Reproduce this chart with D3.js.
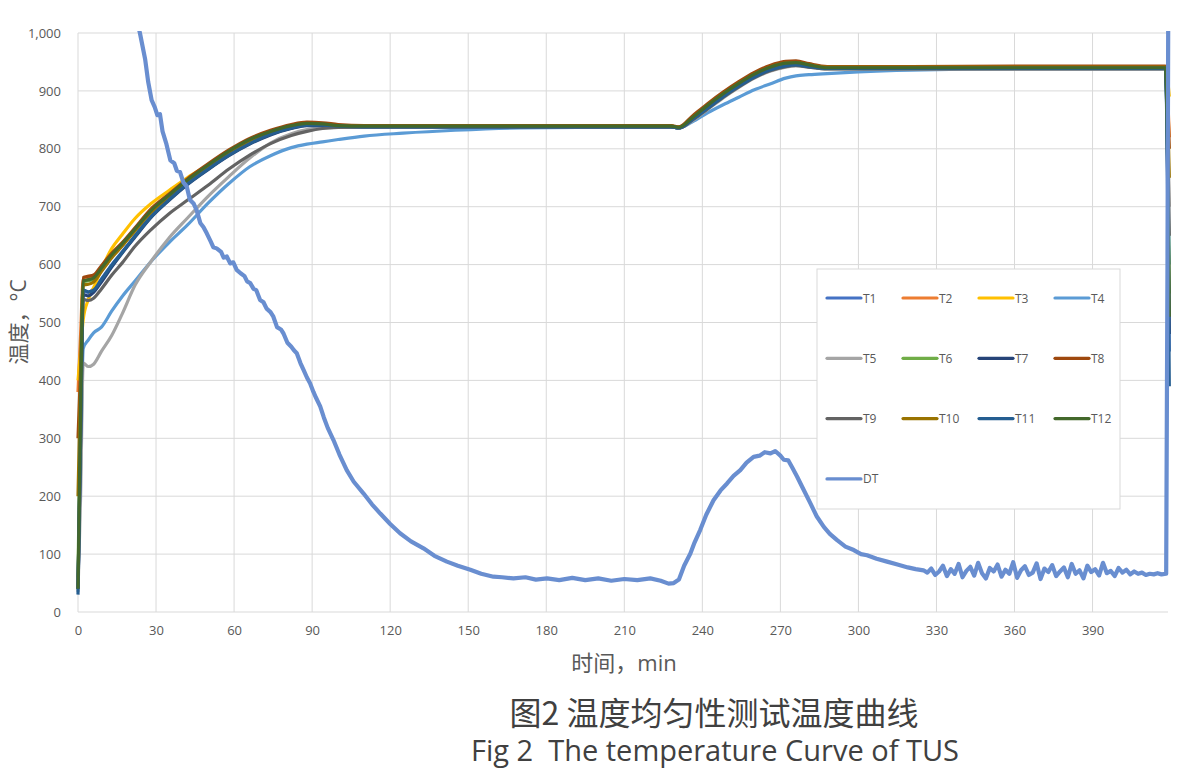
<!DOCTYPE html>
<html>
<head>
<meta charset="utf-8">
<script src="https://cdn.jsdelivr.net/npm/d3@7"></script>
<style>
  body { margin: 0; background: #fff; }
  svg { display: block; font-family: "Open Sans", "Noto Sans CJK SC", sans-serif; }
</style>
</head>
<body>
<div id="chart"></div>
<script>
// temps des thermocouples T1..T12 (min)
const tT = [0, 1, 2, 4, 6, 9, 13, 17, 22, 28, 35, 42, 50, 58, 66, 74, 82, 88, 94, 100,
  110, 125, 145, 170, 200, 228, 231, 236, 242, 248, 254, 260, 266, 272, 276, 281, 288,
  300, 320, 360, 400, 418, 419.5];

const T1 = [40, 300, 555, 552, 558, 575, 600, 622, 650, 683, 713, 740, 766, 790, 810, 826, 836, 841, 841, 839,
  838, 838, 838, 838, 838, 838, 836, 850, 870, 890, 908, 924, 936, 943, 945, 942, 939,
  939, 939, 939, 939, 939, 450];
const T2 = [380, 480, 575, 576, 578, 594, 617, 636, 662, 693, 720, 745, 771, 795, 815, 830, 840, 844, 843, 840,
  839, 839, 839, 839, 839, 839, 837, 853, 875, 895, 913, 929, 941, 948, 949, 945, 941,
  941, 941, 941, 941, 941, 820];
const T3 = [400, 450, 505, 540, 560, 592, 628, 652, 680, 705, 728, 750, 772, 795, 814, 829, 839, 843, 842, 840,
  839, 839, 839, 839, 839, 839, 837, 852, 874, 894, 912, 928, 940, 947, 948, 944, 940,
  940, 940, 940, 940, 940, 890];
const T4 = [40, 250, 455, 470, 482, 492, 520, 545, 572, 605, 638, 668, 706, 740, 769, 788, 802, 808, 812, 816,
  822, 827, 832, 836, 837, 838, 836, 846, 862, 876, 889, 902, 912, 922, 926, 928, 930,
  933, 936, 938, 938, 938, 600];
const T5 = [35, 200, 430, 424, 428, 450, 478, 515, 565, 605, 646, 680, 718, 752, 784, 810, 826, 833, 836, 837,
  838, 838, 838, 838, 838, 838, 836, 848, 868, 888, 906, 922, 934, 941, 943, 941, 938,
  938, 938, 938, 938, 938, 700];
const T6 = [60, 380, 570, 572, 575, 592, 615, 634, 660, 691, 718, 744, 770, 794, 814, 829, 839, 843, 842, 840,
  839, 839, 839, 839, 839, 839, 837, 852, 874, 894, 912, 928, 940, 947, 948, 944, 940,
  940, 940, 940, 940, 940, 550];
const T7 = [40, 300, 548, 546, 552, 570, 596, 620, 648, 681, 711, 738, 764, 788, 808, 824, 835, 840, 840, 839,
  838, 838, 838, 838, 838, 838, 836, 850, 870, 890, 908, 924, 936, 943, 945, 942, 939,
  939, 939, 939, 939, 939, 480];
const T8 = [300, 420, 578, 580, 582, 598, 620, 638, 664, 696, 722, 748, 774, 798, 818, 832, 842, 846, 845, 842,
  840, 840, 840, 840, 840, 840, 838, 856, 878, 898, 916, 932, 944, 951, 952, 947, 942,
  942, 942, 943, 943, 943, 800];
const T9 = [40, 300, 540, 538, 542, 558, 582, 603, 632, 660, 688, 711, 737, 765, 789, 809, 823, 830, 835, 837,
  838, 838, 838, 838, 838, 838, 836, 849, 869, 889, 907, 923, 935, 942, 944, 941, 938,
  938, 938, 938, 938, 938, 650];
const T10 = [200, 400, 565, 566, 570, 588, 612, 632, 659, 690, 718, 744, 770, 794, 814, 829, 839, 843, 842, 840,
  839, 839, 839, 839, 839, 839, 837, 853, 875, 895, 913, 929, 941, 948, 949, 945, 941,
  941, 941, 941, 941, 941, 750];
const T11 = [30, 300, 556, 553, 556, 574, 599, 621, 650, 682, 712, 739, 765, 789, 809, 825, 836, 841, 841, 839,
  838, 838, 838, 838, 838, 838, 836, 850, 870, 890, 908, 924, 936, 943, 945, 942, 939,
  939, 939, 939, 939, 939, 390];
const T12 = [40, 350, 572, 574, 577, 594, 617, 636, 662, 693, 720, 746, 772, 796, 816, 830, 840, 844, 843, 840,
  839, 839, 839, 839, 839, 839, 837, 853, 875, 895, 913, 929, 941, 948, 949, 945, 940,
  940, 940, 940, 940, 940, 510];

// DT (écart de température)
const tDT = [15, 20, 23.8, 25.8, 27, 28.3, 29.5, 30.5, 31.5, 32.5, 34, 35.5, 37, 38, 39.2, 40.5, 41.8, 43, 44.5,
  45.6, 47, 48.2, 49.5, 51, 52, 53.3, 55, 56, 57.2, 58.5, 59.7, 61, 62.5, 64, 65, 66.2, 67.5, 68.5, 70,
  71.3, 72.5, 74, 75.1, 76.5, 78, 79, 80.5, 82, 83, 84.1, 85.5, 86.7, 88, 89.2, 90.5, 91.5, 93.1, 94.5,
  96, 98.2, 100.5, 103.3, 106, 109.7, 113, 116.2, 120, 123.8, 128, 132.8, 137, 141.8, 146, 150.8, 155,
  159.7, 163, 167.4, 172, 176, 180.3, 185, 190, 195, 200, 205, 210, 215, 220, 224, 227, 229, 231, 233,
  235.4, 237, 239.2, 241.5, 244.3, 247, 249.5, 252, 254.6, 257, 259.7, 262, 264, 266.2, 268, 270, 271.3,
  273, 274.5, 276.4, 278.5, 281.5, 284, 286.7, 289, 291.8, 295, 298.2, 301, 303.3, 307, 311, 315, 319,
  322, 325, 326.5, 328, 329.5, 331, 332.5, 334, 335.5, 337, 338.5, 340, 341.5, 343, 344.5, 346, 347.5,
  349, 350.5, 352, 353.5, 355, 356.5, 358, 359.5, 361, 362.5, 364, 365.5, 367, 368.5, 370, 371.5, 373,
  374.5, 376, 377.5, 379, 380.5, 382, 383.5, 385, 386.5, 388, 389.5, 391, 392.5, 394, 395.5, 397, 398.5,
  400, 401.5, 403, 404.5, 406, 407.5, 409, 410.5, 412, 413.5, 415, 416.5, 418.3, 418.8, 419.2];
const DT = [1150, 1070, 1000, 955, 915, 884, 872, 858, 860, 830, 808, 780, 775, 762, 760, 742, 735, 712, 705,
  694, 672, 665, 654, 640, 630, 628, 622, 612, 614, 602, 604, 591, 585, 580, 571, 568, 558, 556, 539,
  535, 524, 518, 510, 492, 488, 481, 465, 458, 452, 447, 430, 418, 405, 395, 380, 370, 355, 336,
  318, 297, 272, 245, 225, 205, 186, 170, 152, 136, 122, 110, 97, 87, 80, 73, 66,
  61, 60, 58, 60, 56, 58, 55, 59, 55, 58, 54, 57, 55, 58, 54, 49, 50, 56, 80,
  101, 120, 142, 168, 193, 210, 222, 235, 245, 258, 268, 270, 276, 274, 278, 270, 263,
  262, 250, 234, 215, 188, 165, 147, 135, 124, 113, 107, 100, 98, 92, 87, 82, 77,
  74, 72, 68, 75, 64, 70, 80, 62, 74, 66, 83, 60, 71, 78, 63, 85, 67,
  58, 76, 70, 82, 61, 73, 66, 86, 59, 72, 79, 64, 68, 84, 57, 75, 69,
  81, 62, 70, 77, 60, 83, 66, 72, 58, 80, 69, 74, 63, 85, 67, 71, 62,
  76, 68, 73, 65, 70, 66, 68, 64, 66, 65, 67, 65, 66, 600, 1200];

const seriesNames = ["T1", "T2", "T3", "T4", "T5", "T6", "T7", "T8", "T9", "T10", "T11", "T12", "DT"];
const seriesColors = ["#4472C4", "#ED7D31", "#FFC000", "#5B9BD5", "#A5A5A5", "#70AD47", "#264478",
  "#9E480E", "#636363", "#997300", "#255E91", "#43682B", "#698ED0"];
const xTicks = [0, 30, 60, 90, 120, 150, 180, 210, 240, 270, 300, 330, 360, 390];
const yTicks = [0, 100, 200, 300, 400, 500, 600, 700, 800, 900, 1000];

const width = 1179, height = 769;
const mLeft = 78, mRight = 1168, mTop = 33, mBottom = 612;

const svg = d3.select("#chart").append("svg")
  .attr("width", width).attr("height", height);

const x = d3.scaleLinear().domain([0, 419]).range([mLeft, mRight]);
const y = d3.scaleLinear().domain([0, 1000]).range([mBottom, mTop]);

// grille
svg.append("g").selectAll("line").data(yTicks).enter().append("line")
  .attr("x1", mLeft).attr("x2", mRight)
  .attr("y1", d => y(d)).attr("y2", d => y(d))
  .attr("stroke", "#d9d9d9").attr("stroke-width", 1);
svg.append("g").selectAll("line").data(xTicks).enter().append("line")
  .attr("x1", d => x(d)).attr("x2", d => x(d))
  .attr("y1", mTop).attr("y2", mBottom)
  .attr("stroke", "#d9d9d9").attr("stroke-width", 1);

// axes (texte seulement)
const yAxis = svg.append("g").attr("transform", `translate(${mLeft},0)`)
  .call(d3.axisLeft(y).tickValues(yTicks).tickFormat(d3.format(",")).tickSize(0).tickPadding(17));
const xAxis = svg.append("g").attr("transform", `translate(0,${mBottom})`)
  .call(d3.axisBottom(x).tickValues(xTicks).tickSize(0).tickPadding(14));
[yAxis, xAxis].forEach(a => {
  a.select(".domain").remove();
  a.selectAll("text").attr("fill", "#595959").style("font-size", "13px")
    .style("font-family", "'Open Sans', sans-serif");
});

// courbes
svg.append("clipPath").attr("id", "clip").append("rect")
  .attr("x", 0).attr("y", mTop - 2).attr("width", width).attr("height", mBottom - mTop + 40);

const line = d3.line().x(d => x(d[0])).y(d => y(d[1]));
const tSeries = [T1, T2, T3, T4, T5, T6, T7, T8, T9, T10, T11, T12];
const plot = svg.append("g").attr("clip-path", "url(#clip)");

tSeries.forEach((vals, i) => {
  plot.append("path")
    .datum(tT.map((t, j) => [t, vals[j]]))
    .attr("d", line.curve(d3.curveMonotoneX))
    .attr("fill", "none")
    .attr("stroke", seriesColors[i])
    .attr("stroke-width", 3.2)
    .attr("stroke-linejoin", "round");
});

plot.append("path")
  .datum(tDT.map((t, j) => [t, DT[j]]))
  .attr("d", line.curve(d3.curveLinear))
  .attr("fill", "none")
  .attr("stroke", seriesColors[12])
  .attr("stroke-width", 4.2)
  .attr("stroke-linejoin", "round");

// légende
const lg = svg.append("g").attr("transform", "translate(817,269)");
lg.append("rect").attr("width", 303).attr("height", 240)
  .attr("fill", "#fff").attr("stroke", "#d9d9d9");
seriesNames.forEach((name, i) => {
  const col = i % 4, row = Math.floor(i / 4);
  const g = lg.append("g").attr("transform", `translate(${10 + col * 76},${29 + row * 60.3})`);
  g.append("line").attr("x1", 0).attr("x2", 34).attr("y1", 0).attr("y2", 0)
    .attr("stroke", seriesColors[i]).attr("stroke-width", 3.2).attr("stroke-linecap", "round");
  g.append("text").attr("x", 36).attr("y", 4.5).text(name)
    .attr("fill", "#595959").style("font-size", "12px");
});

// titres d'axes
svg.append("text")
  .attr("transform", "translate(26,322) rotate(-90)")
  .attr("text-anchor", "middle")
  .attr("fill", "#595959").style("font-size", "21px")
  .text("温度，°C");
svg.append("text")
  .attr("x", 624).attr("y", 671).attr("text-anchor", "middle")
  .attr("fill", "#595959").style("font-size", "22px")
  .text("时间，min");

// titre
svg.append("text")
  .attr("x", 714).attr("y", 725).attr("text-anchor", "middle")
  .attr("fill", "#404040").style("font-size", "32px")
  .style("font-family", "'Noto Sans CJK SC', sans-serif")
  .text("图2 温度均匀性测试温度曲线");
svg.append("text")
  .attr("x", 715).attr("y", 761).attr("text-anchor", "middle")
  .attr("xml:space", "preserve").style("white-space", "pre")
  .attr("fill", "#404040").style("font-size", "29px")
  .style("font-family", "'Open Sans', sans-serif")
  .text("Fig 2  The temperature Curve of TUS");
</script>
</body>
</html>
